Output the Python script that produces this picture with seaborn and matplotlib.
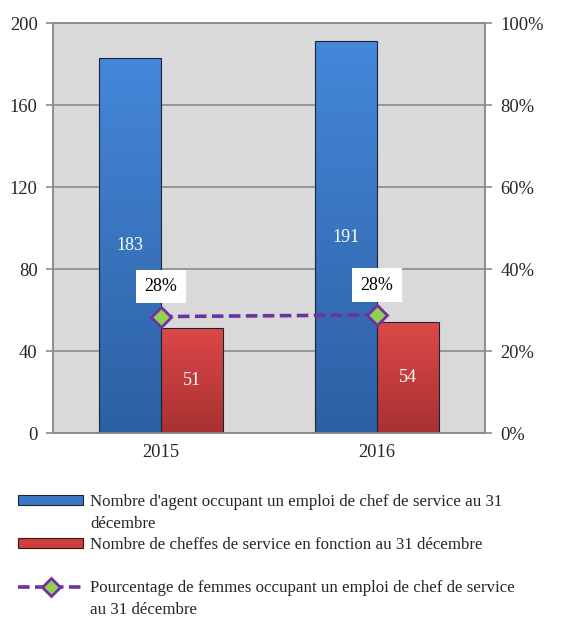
import numpy as np
import pandas as pd
import matplotlib
matplotlib.use("Agg")
import matplotlib.pyplot as plt
from matplotlib.patches import Rectangle
from matplotlib.lines import Line2D
from matplotlib.colors import LinearSegmentedColormap
from matplotlib.ticker import PercentFormatter
import seaborn as sns

# data
annees = ["2015", "2016"]
nb_agents = [183, 191]
nb_cheffes = [51, 54]
pct_femmes = [0.284, 0.288]
pct_labels = ["28%", "28%"]

lbl_agents = "Nombre d'agent occupant un emploi de chef de service au 31"
lbl_agents_2 = "décembre"
lbl_cheffes = "Nombre de cheffes de service en fonction au 31 décembre"
lbl_pct = "Pourcentage de femmes occupant un emploi de chef de service"
lbl_pct_2 = "au 31 décembre"

BLUE = "#3B76C4"
RED = "#CC4040"
BLUE_GRAD = ("#2C60A2", "#4587DA")   # bottom, top
RED_GRAD = ("#A93131", "#DC4848")
PURPLE = "#7030A0"
GREEN = "#92D050"
GRID = "#8C8C8C"
DASH = (0, (3.2, 1.5))

sns.set_style("white")
plt.rcParams["font.family"] = ["Liberation Serif", "DejaVu Serif"]

df = pd.DataFrame({
    "annee": annees * 2,
    "valeur": nb_agents + nb_cheffes,
    "serie": ["agents"] * len(annees) + ["cheffes"] * len(annees),
})

fig = plt.figure(figsize=(5.63, 6.17), dpi=100)
ax = fig.add_axes([0.0941, 0.2982, 0.7674, 0.6645])
ax.set_facecolor("#D9D9D9")

sns.barplot(data=df, x="annee", y="valeur", hue="serie",
            palette=[BLUE, RED], width=0.574, saturation=1,
            edgecolor="#1A2638", linewidth=0.8, legend=False, ax=ax, zorder=3)

# vertical gradient inside each bar, like the office-style bevel
grad = np.linspace(0, 1, 256).reshape(-1, 1)
for cont, (c0, c1) in zip(ax.containers, [BLUE_GRAD, RED_GRAD]):
    cmap = LinearSegmentedColormap.from_list("g", [c0, c1])
    for p in cont.patches:
        x0, w, h = p.get_x(), p.get_width(), p.get_height()
        im = ax.imshow(grad, extent=[x0, x0 + w, 0, h], origin="lower",
                       aspect="auto", cmap=cmap, zorder=2.9)
        im.set_clip_path(p)
        p.set_facecolor("none")

for cont in ax.containers:
    ax.bar_label(cont, label_type="center", color="white", fontsize=13)

ax.set_ylim(0, 200)
ax.set_yticks(np.arange(0, 201, 40))
ax.set_xlim(-0.5, len(annees) - 0.5)
ax.set_xlabel("")
ax.set_ylabel("")
ax.yaxis.grid(True, color=GRID, linewidth=1.2, zorder=0)
ax.set_axisbelow(True)
ax.set_xticks(np.arange(len(annees)))
ax.set_xticklabels(annees)
ax.set_xticks(np.arange(-0.5, len(annees)), minor=True)
ax.tick_params(axis="x", which="major", length=0, pad=8, labelsize=13.3)
ax.tick_params(axis="x", which="minor", length=5, color=GRID, width=1.2)
ax.tick_params(axis="y", length=5, color=GRID, width=1.2, labelsize=13.3, pad=6)
for s in ax.spines.values():
    s.set_color(GRID)
    s.set_linewidth(1.2)

ax2 = ax.twinx()
ax2.plot(np.arange(len(annees)), pct_femmes, color=PURPLE, linewidth=2.6,
         linestyle=DASH, marker="D", markersize=10,
         markerfacecolor=GREEN, markeredgecolor=PURPLE, markeredgewidth=2, zorder=5)
ax2.set_ylim(0, 1)
ax2.set_yticks(np.arange(0, 1.01, 0.2))
ax2.yaxis.set_major_formatter(PercentFormatter(1, decimals=0))
ax2.tick_params(axis="y", length=5, color=GRID, width=1.2, labelsize=13.3, pad=6)
for s in ax2.spines.values():
    s.set_color(GRID)
    s.set_linewidth(1.2)

for i, (v, t) in enumerate(zip(pct_femmes, pct_labels)):
    ax2.annotate(t, (i, v), xytext=(0, 21.5), textcoords="offset points",
                 ha="center", va="center", fontsize=13, color="black",
                 bbox=dict(boxstyle="square,pad=0.45", facecolor="white",
                           edgecolor="none"))

blank = Rectangle((0, 0), 1, 1, visible=False)
handles = [
    Rectangle((0, 0), 1, 1, facecolor=BLUE, edgecolor="#1A2638", linewidth=0.8),
    blank,
    Rectangle((0, 0), 1, 1, facecolor=RED, edgecolor="#4A1010", linewidth=0.8),
    blank,
    Line2D([], [], color=PURPLE, linewidth=2.6, linestyle=DASH,
           marker="D", markersize=9, markerfacecolor=GREEN,
           markeredgecolor=PURPLE, markeredgewidth=2),
    blank,
]
labels = [lbl_agents, lbl_agents_2, lbl_cheffes, "", lbl_pct, lbl_pct_2]
fig.legend(handles, labels, loc="upper left",
           bbox_to_anchor=(18 / 563, 1 - 494 / 617), frameon=False,
           fontsize=12.2, handlelength=3.85, handleheight=0.5,
           handletextpad=0.4, labelspacing=0.33, borderpad=0,
           borderaxespad=0, numpoints=1)

fig.savefig("out.png", dpi=100)
